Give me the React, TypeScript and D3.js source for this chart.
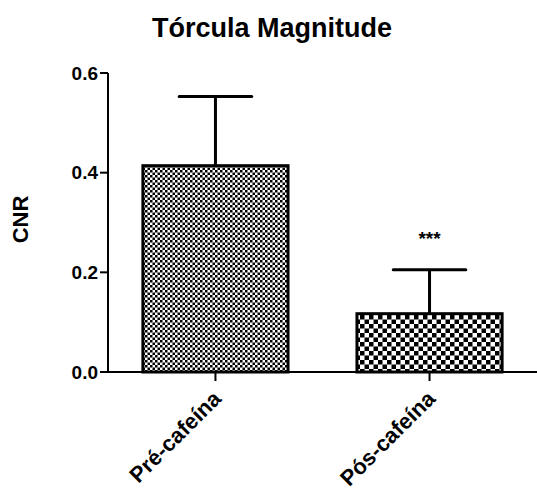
import React from "react";
import * as d3 from "d3";

const categories = ["Pré-cafeína", "Pós-cafeína"];
const means = [0.414, 0.117];
const sems = [0.139, 0.088];
const significance = ["", "***"];
const yTicks = [0.0, 0.2, 0.4, 0.6];
const patternCells = [2.5, 4.5];

export default function App() {
  const W = 537, H = 490;
  const y = d3.scaleLinear().domain([0, 0.6]).range([372, 73]);
  const x = d3.scaleBand().domain(categories).range([108, 537]).paddingInner(0.322).paddingOuter(0.163);
  const font = "'Liberation Sans', Arial, sans-serif";
  return (
    <div style={{ position: "absolute", left: 0, top: 0 }}>
      <svg width={W} height={H} style={{ display: "block", background: "#fff" }}>
        <defs>
          {patternCells.map((c, i) => (
            <pattern key={i} id={`chk${i}`} patternUnits="userSpaceOnUse" width={2 * c} height={2 * c}>
              <rect width={2 * c} height={2 * c} fill="#fff" />
              <rect width={c} height={c} fill="#000" />
              <rect x={c} y={c} width={c} height={c} fill="#000" />
            </pattern>
          ))}
        </defs>
        <text x={272} y={37} textAnchor="middle" fontFamily={font} fontWeight="bold" fontSize={27}>Tórcula Magnitude</text>
        <text transform={`translate(28,219.5) rotate(-90)`} textAnchor="middle" fontFamily={font} fontWeight="bold" fontSize={22}>CNR</text>
        {/* y axis */}
        <line x1={108} x2={108} y1={y(0.6)} y2={y(0)} stroke="#000" strokeWidth={2} />
        {yTicks.map((t) => (
          <g key={t}>
            <line x1={100} x2={108} y1={y(t)} y2={y(t)} stroke="#000" strokeWidth={2} />
            <text x={98} y={y(t)} dy="0.35em" textAnchor="end" fontFamily={font} fontWeight="bold" fontSize={19}>{t.toFixed(1)}</text>
          </g>
        ))}
        {/* bars */}
        {categories.map((c, i) => {
          const bx = x(c)!, bw = x.bandwidth();
          const cx = bx + bw / 2;
          const capW = bw * 0.5;
          return (
            <g key={c}>
              <line x1={cx} x2={cx} y1={y(means[i] + sems[i])} y2={y(means[i])} stroke="#000" strokeWidth={3} />
              <line x1={cx - capW / 2} x2={cx + capW / 2} y1={y(means[i] + sems[i])} y2={y(means[i] + sems[i])} stroke="#000" strokeWidth={3} strokeLinecap="round" />
              <rect x={bx} y={y(means[i])} width={bw} height={y(0) - y(means[i])} fill={`url(#chk${i})`} stroke="#000" strokeWidth={3} />
              {significance[i] && (
                <text x={cx} y={y(means[i] + sems[i]) - 25} textAnchor="middle" fontFamily={font} fontWeight="bold" fontSize={19}>{significance[i]}</text>
              )}
              <line x1={cx} x2={cx} y1={y(0)} y2={y(0) + 9} stroke="#000" strokeWidth={2} />
              <text transform={`translate(${cx + 7},${y(0) + 28}) rotate(-45)`} textAnchor="end" fontFamily={font} fontWeight="bold" fontSize={22}>{c}</text>
            </g>
          );
        })}
        <line x1={107} x2={537} y1={y(0)} y2={y(0)} stroke="#000" strokeWidth={2} />
      </svg>
    </div>
  );
}
